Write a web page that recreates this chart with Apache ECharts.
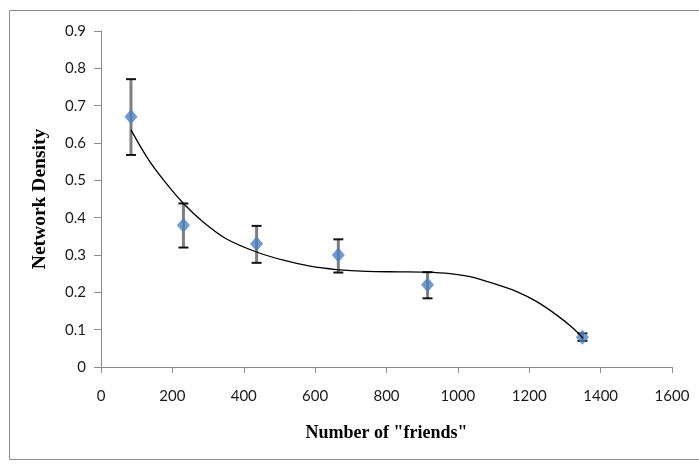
<!DOCTYPE html>
<html>
<head>
<meta charset="utf-8">
<script src="https://cdn.jsdelivr.net/npm/echarts@6/dist/echarts.min.js"></script>
<style>
html,body{margin:0;padding:0;background:#fff;}
#chart{width:699px;height:466px;}
</style>
</head>
<body>
<div id="chart"></div>
<script>
// Data points (Number of "friends", Network Density)
var friends = [84, 231, 436, 665, 915, 1349];
var density = [0.67, 0.38, 0.33, 0.30, 0.22, 0.08];
var errLow  = [0.568, 0.32, 0.279, 0.253, 0.184, 0.07];
var errHigh = [0.771, 0.438, 0.378, 0.342, 0.254, 0.09];

// Trendline
var trendX = [84, 128, 175, 231, 287, 352, 436, 511, 586, 660, 745, 838, 913, 978, 1034, 1099, 1165, 1221, 1277, 1323, 1351];
var trendY = [0.635, 0.563, 0.501, 0.438, 0.388, 0.343, 0.308, 0.286, 0.270, 0.261, 0.256, 0.255, 0.254, 0.250, 0.242, 0.224, 0.202, 0.175, 0.139, 0.104, 0.077];

// Tick labels
var xTicks = [0, 200, 400, 600, 800, 1000, 1200, 1400, 1600];
var yTicks = [0, 0.1, 0.2, 0.3, 0.4, 0.5, 0.6, 0.7, 0.8, 0.9];

var points = friends.map(function (f, i) { return [f, density[i]]; });
var errData = friends.map(function (f, i) { return [f, errLow[i], errHigh[i]]; });
var trend = trendX.map(function (x, i) { return [x, trendY[i]]; });

var chart = echarts.init(document.getElementById('chart'), null, {renderer: 'canvas'});
var labelFont = {color: '#1a1a1a', fontSize: 15, fontFamily: 'Lato'};
var titleFont = {fontFamily: 'Liberation Serif', fontWeight: 'bold', color: '#000'};

chart.setOption({
  animation: false,
  backgroundColor: '#fff',
  graphic: [{
    type: 'rect',
    shape: {x: 9.5, y: 10.5, width: 700, height: 449},
    style: {fill: 'none', stroke: '#8c8c8c', lineWidth: 1},
    z: -1
  }],
  grid: {left: 101, right: 27, top: 31, bottom: 99},
  xAxis: {
    type: 'value', min: 0, max: 1600, interval: 200,
    name: 'Number of "friends"', nameLocation: 'middle', nameGap: 57,
    nameMoveOverlap: false,
    nameTextStyle: Object.assign({fontSize: 18}, titleFont),
    axisLine: {show: true, lineStyle: {color: '#8c8c8c', width: 1}},
    axisTick: {show: true, length: 6, lineStyle: {color: '#8c8c8c'}},
    axisLabel: Object.assign({margin: 22, formatter: function (v) { return xTicks.indexOf(v) >= 0 ? String(v) : ''; }}, labelFont),
    splitLine: {show: false}
  },
  yAxis: {
    type: 'value', min: 0, max: 0.9, interval: 0.1,
    name: 'Network Density', nameLocation: 'middle', nameGap: 51,
    nameMoveOverlap: false,
    nameTextStyle: Object.assign({fontSize: 19.5}, titleFont),
    axisLine: {show: true, lineStyle: {color: '#8c8c8c', width: 1}},
    axisTick: {show: true, length: 7, lineStyle: {color: '#8c8c8c'}},
    axisLabel: Object.assign({margin: 15, formatter: function (v) {
      var r = Math.round(v * 10) / 10; return yTicks.indexOf(r) >= 0 ? String(r) : '';
    }}, labelFont),
    splitLine: {show: false}
  },
  series: [
    {
      type: 'custom',
      data: errData,
      z: 2,
      renderItem: function (params, api) {
        var x = api.value(0);
        var lo = api.coord([x, api.value(1)]);
        var hi = api.coord([x, api.value(2)]);
        var w = 5;
        return {
          type: 'group',
          children: [
            {type: 'line', shape: {x1: lo[0], y1: lo[1], x2: hi[0], y2: hi[1]}, style: {stroke: '#7f7f7f', lineWidth: 3}},
            {type: 'line', shape: {x1: lo[0] - w, y1: lo[1], x2: lo[0] + w, y2: lo[1]}, style: {stroke: '#111', lineWidth: 2}},
            {type: 'line', shape: {x1: hi[0] - w, y1: hi[1], x2: hi[0] + w, y2: hi[1]}, style: {stroke: '#111', lineWidth: 2}}
          ]
        };
      }
    },
    {
      type: 'scatter',
      data: points,
      symbol: 'diamond',
      symbolSize: [13, 15],
      itemStyle: {color: '#4f81bd'},
      z: 3
    },
    {
      type: 'line',
      data: trend,
      smooth: 0.3,
      showSymbol: false,
      symbol: 'none',
      lineStyle: {color: '#000', width: 1.3},
      z: 4
    }
  ]
});
</script>
</body>
</html>
